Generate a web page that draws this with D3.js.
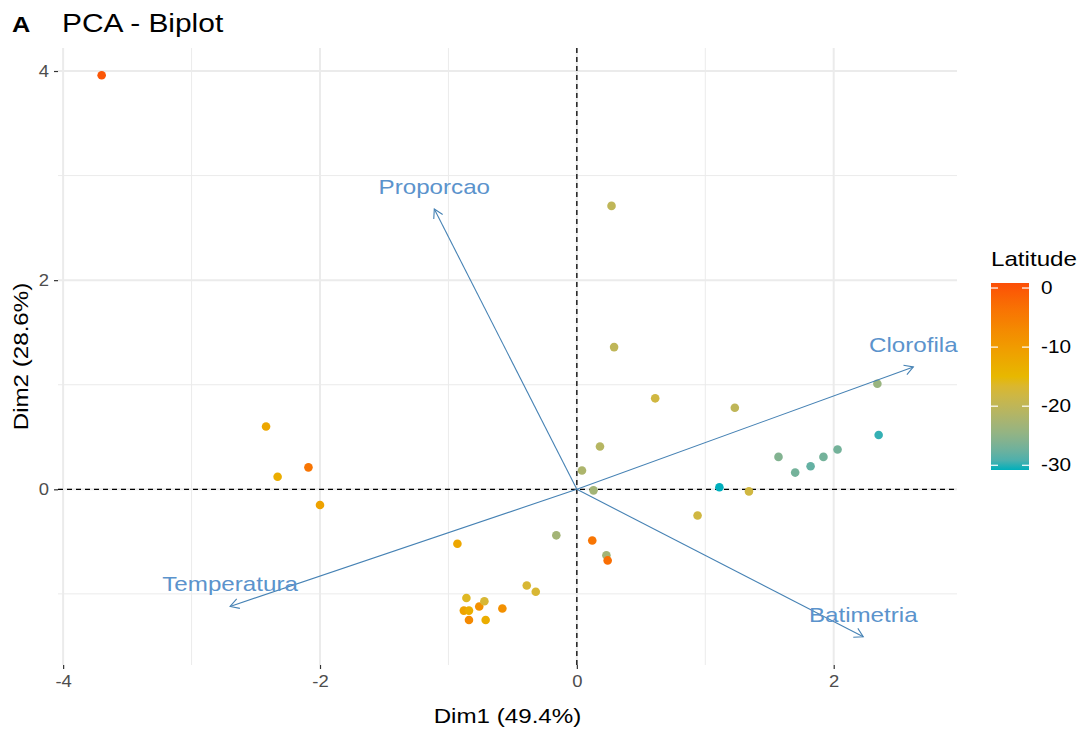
<!DOCTYPE html>
<html>
<head>
<meta charset="utf-8">
<script src="https://cdn.jsdelivr.net/npm/d3@7"></script>
<style>
    body { margin: 0; background: #fff; }
    text { font-family: "Liberation Sans", Arial, sans-serif; }
</style>
</head>
<body>
<div id="chart"></div>
<script>

// --------------------------------------
// Data
// --------------------------------------

// individuals (PCA coordinates)
var dim1 = [-3.70, 0.27, 0.29, 0.61, 1.23, 0.18, 0.04, 0.13, -0.16, 0.12, 0.23, 0.24,
            -2.42, -2.33, -2.09, -2.00, -0.93, -0.39, -0.32,
            -0.86, -0.88, -0.84, -0.76, -0.72, -0.58, -0.84, -0.71,
            1.57, 1.70, 1.82, 1.92, 2.03, 2.34, 2.35, 1.11, 1.34, 0.94];
var dim2 = [3.96, 2.71, 1.36, 0.87, 0.78, 0.41, 0.18, -0.01, -0.44, -0.49, -0.63, -0.68,
            0.60, 0.12, 0.21, -0.15, -0.52, -0.92, -0.98,
            -1.04, -1.16, -1.16, -1.12, -1.07, -1.14, -1.25, -1.25,
            0.31, 0.16, 0.22, 0.31, 0.38, 1.01, 0.52, 0.02, -0.02, -0.25];
var latitude = [0, -20, -20, -18, -20, -21, -22, -23, -23, -4, -23, -3,
                -12, -13, -4, -11, -12, -17, -17,
                -16, -11, -13, -8, -17, -8, -7, -13,
                -26, -27, -28, -27, -27, -24, -30, -31, -18, -18];

// variables (arrows)
var varNames = ["Proporcao", "Clorofila", "Temperatura", "Batimetria"];
var varDim1 = [-1.11, 2.62, -2.70, 2.23];
var varDim2 = [2.68, 1.17, -1.12, -1.41];

// axes
var xTicks = [-4, -2, 0, 2];
var yTicks = [0, 2, 4];
var xMinor = [-3, -1, 1];
var yMinor = [-1, 1, 3];
var legendTicks = [0, -10, -20, -30];
var latDomain = [-30.8, 0.85];
var palette = ["#00AFBB", "#E7B800", "#FC4E07"];

// --------------------------------------
// Layout
// --------------------------------------

var width = 1083, height = 729;
var panel = {left: 58, right: 957, top: 48, bottom: 665};
var STRETCH = 1.15;   // reference text is a bit wider than Liberation Sans

var svg = d3.select("#chart").append("svg")
    .attr("width", width)
    .attr("height", height);

var x = d3.scaleLinear().domain([-4.04, 2.96]).range([panel.left, panel.right]);
var y = d3.scaleLinear().domain([-1.68, 4.22]).range([panel.bottom, panel.top]);

var color = d3.scaleLinear()
    .domain([latDomain[0], (latDomain[0] + latDomain[1]) / 2, latDomain[1]])
    .range(palette)
    .interpolate(d3.interpolateLab);

function stretch(sel) {
    // widen text glyphs horizontally
    sel.each(function() {
        var w = this.getComputedTextLength();
        d3.select(this)
            .attr("textLength", w * STRETCH)
            .attr("lengthAdjust", "spacingAndGlyphs");
    });
}

// plain hyphen minus, like R
var fmt = function(d) { return String(d); };

// grid (minor first, then major)
var grid = svg.append("g");
grid.selectAll(".vminor").data(xMinor).enter().append("line")
    .attr("x1", x).attr("x2", x)
    .attr("y1", panel.top).attr("y2", panel.bottom)
    .attr("stroke", "#ebebeb").attr("stroke-width", 1);
grid.selectAll(".hminor").data(yMinor).enter().append("line")
    .attr("y1", y).attr("y2", y)
    .attr("x1", panel.left).attr("x2", panel.right)
    .attr("stroke", "#ebebeb").attr("stroke-width", 1);
grid.selectAll(".vmajor").data(xTicks).enter().append("line")
    .attr("x1", x).attr("x2", x)
    .attr("y1", panel.top).attr("y2", panel.bottom)
    .attr("stroke", "#ebebeb").attr("stroke-width", 2);
grid.selectAll(".hmajor").data(yTicks).enter().append("line")
    .attr("y1", y).attr("y2", y)
    .attr("x1", panel.left).attr("x2", panel.right)
    .attr("stroke", "#ebebeb").attr("stroke-width", 2);

// axes (ticks + labels)
var xAxis = svg.append("g")
    .attr("transform", "translate(0," + panel.bottom + ")")
    .call(d3.axisBottom(x).tickValues(xTicks).tickSize(4).tickPadding(7).tickFormat(fmt));
var yAxis = svg.append("g")
    .attr("transform", "translate(" + panel.left + ",0)")
    .call(d3.axisLeft(y).tickValues(yTicks).tickSize(4).tickPadding(5).tickFormat(fmt));

[xAxis, yAxis].forEach(function(a) {
    a.select(".domain").remove();
    a.selectAll(".tick line").attr("stroke", "#333").attr("stroke-width", 1.2);
    a.selectAll(".tick text")
        .attr("fill", "#4d4d4d")
        .style("font-size", "16px")
        .style("font-family", "'Liberation Sans', Arial, sans-serif")
        .call(stretch);
});

// dashed reference lines
svg.append("line")
    .attr("x1", x(0)).attr("x2", x(0))
    .attr("y1", panel.top).attr("y2", panel.bottom)
    .attr("stroke", "#000").attr("stroke-width", 1.3)
    .attr("stroke-dasharray", "5,4");
svg.append("line")
    .attr("x1", panel.left).attr("x2", panel.right)
    .attr("y1", y(0)).attr("y2", y(0))
    .attr("stroke", "#000").attr("stroke-width", 1.3)
    .attr("stroke-dasharray", "5,4");

// individuals
var points = d3.range(dim1.length).map(function(i) {
    return {x: dim1[i], y: dim2[i], lat: latitude[i]};
});
svg.append("g").selectAll("circle").data(points).enter().append("circle")
    .attr("cx", function(d) { return x(d.x); })
    .attr("cy", function(d) { return y(d.y); })
    .attr("r", 4.3)
    .attr("fill", function(d) { return color(d.lat); });

// variable arrows
var arrowCol = "#4682B4";
var vars = d3.range(varNames.length).map(function(i) {
    return {name: varNames[i], x: varDim1[i], y: varDim2[i]};
});
var arrows = svg.append("g");
vars.forEach(function(v) {
    var x0 = x(0), y0 = y(0), x1 = x(v.x), y1 = y(v.y);
    var ang = Math.atan2(y1 - y0, x1 - x0);
    var len = 10, spread = Math.PI / 6;
    arrows.append("line")
        .attr("x1", x0).attr("y1", y0).attr("x2", x1).attr("y2", y1)
        .attr("stroke", arrowCol).attr("stroke-width", 1.1);
    // open arrow head
    var head = d3.path();
    head.moveTo(x1 - len * Math.cos(ang - spread), y1 - len * Math.sin(ang - spread));
    head.lineTo(x1, y1);
    head.lineTo(x1 - len * Math.cos(ang + spread), y1 - len * Math.sin(ang + spread));
    arrows.append("path")
        .attr("d", head.toString())
        .attr("fill", "none")
        .attr("stroke", arrowCol).attr("stroke-width", 1.1);
    arrows.append("text")
        .attr("x", x1).attr("y", y1 - 15)
        .attr("text-anchor", "middle")
        .attr("fill", "#5b93cc")
        .style("font-size", "21px")
        .text(v.name)
        .call(stretch);
});

// axis titles
svg.append("text")
    .attr("x", (panel.left + panel.right) / 2).attr("y", 723)
    .attr("text-anchor", "middle")
    .style("font-size", "21px")
    .text("Dim1 (49.4%)")
    .call(stretch);
svg.append("text")
    .attr("transform", "translate(28," + ((panel.top + panel.bottom) / 2) + ") rotate(-90)")
    .attr("text-anchor", "middle")
    .style("font-size", "21px")
    .text("Dim2 (28.6%)")
    .call(stretch);

// title
svg.append("text")
    .attr("x", 12).attr("y", 32)
    .style("font-size", "22px").style("font-weight", "bold")
    .text("A")
    .call(stretch);
svg.append("text")
    .attr("x", 62).attr("y", 32)
    .style("font-size", "26px")
    .text("PCA - Biplot")
    .call(stretch);

// --------------------------------------
// Legend (colour bar)
// --------------------------------------

var leg = {x: 991, w: 38, top: 283, bottom: 470};
var ly = d3.scaleLinear().domain(latDomain).range([leg.bottom, leg.top]);

var grad = svg.append("defs").append("linearGradient")
    .attr("id", "latgrad")
    .attr("x1", 0).attr("y1", 1).attr("x2", 0).attr("y2", 0);
d3.range(0, 1.0001, 0.05).forEach(function(t) {
    var v = latDomain[0] + t * (latDomain[1] - latDomain[0]);
    grad.append("stop").attr("offset", t).attr("stop-color", color(v));
});

svg.append("text")
    .attr("x", leg.x).attr("y", 266)
    .style("font-size", "21px")
    .text("Latitude")
    .call(stretch);
svg.append("rect")
    .attr("x", leg.x).attr("y", leg.top)
    .attr("width", leg.w).attr("height", leg.bottom - leg.top)
    .attr("fill", "url(#latgrad)");

var lt = svg.append("g").selectAll("g").data(legendTicks).enter().append("g");
lt.append("line")
    .attr("x1", leg.x).attr("x2", leg.x + 7)
    .attr("y1", ly).attr("y2", ly)
    .attr("stroke", "#fff").attr("stroke-width", 1.2);
lt.append("line")
    .attr("x1", leg.x + leg.w - 7).attr("x2", leg.x + leg.w)
    .attr("y1", ly).attr("y2", ly)
    .attr("stroke", "#fff").attr("stroke-width", 1.2);
lt.append("text")
    .attr("x", leg.x + leg.w + 12)
    .attr("y", function(d) { return ly(d) + 6; })
    .style("font-size", "18px")
    .attr("fill", "#000")
    .text(function(d) { return d; })
    .call(stretch);

</script>
</body>
</html>
